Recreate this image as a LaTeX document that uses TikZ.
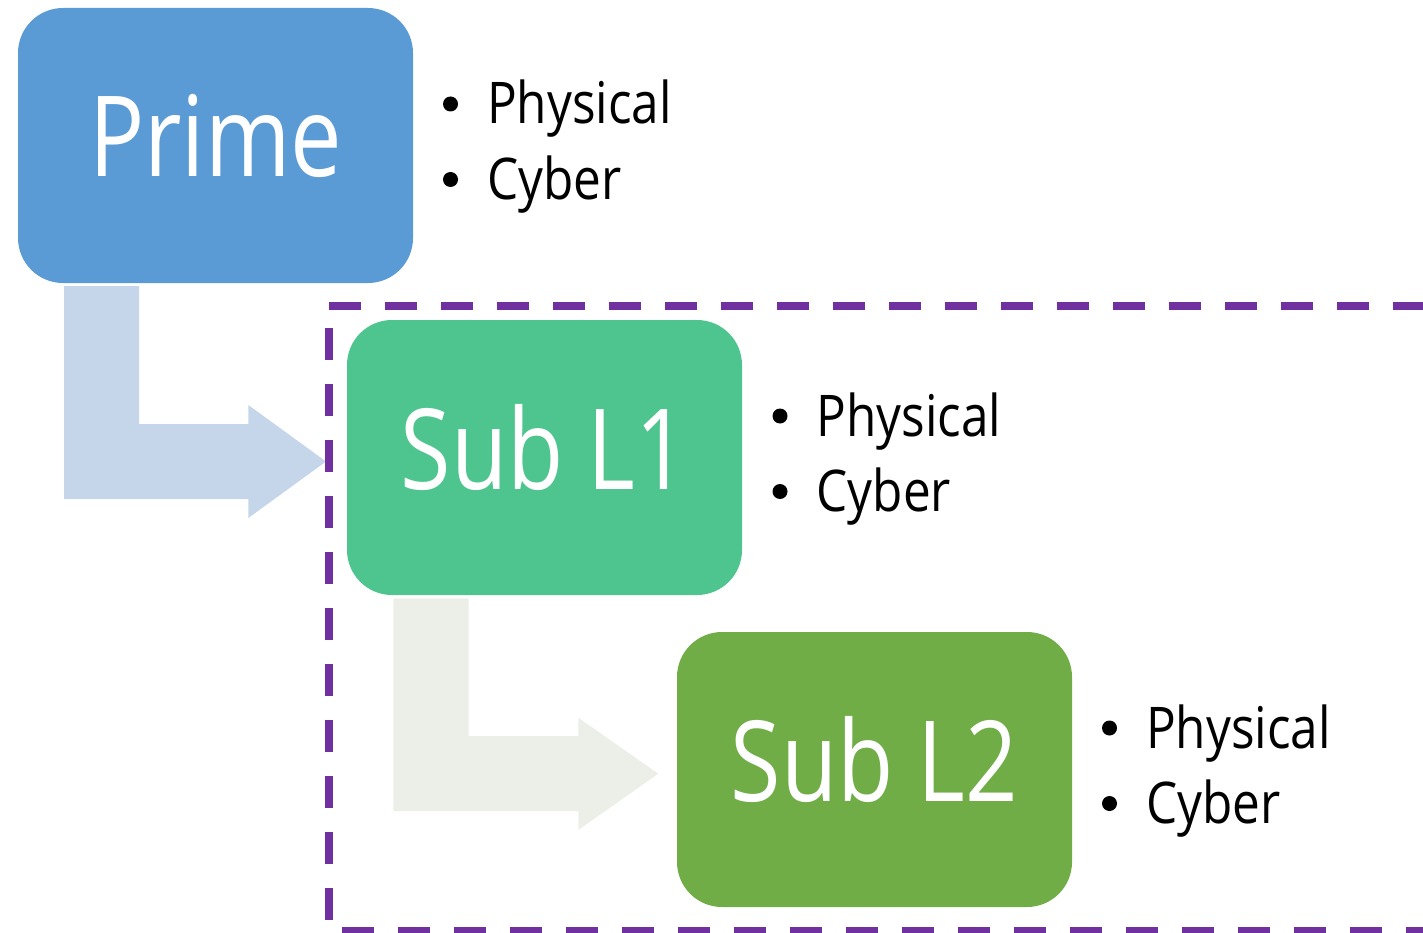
\documentclass[tikz,border=0pt]{standalone}
\usepackage{fontspec}
\newfontfamily\boxfont{Open Sans}[FakeStretch=0.82]
\newfontfamily\bulfont{Open Sans}[FakeStretch=0.86]
\definecolor{primeblue}{HTML}{5B9BD5}
\definecolor{subonegreen}{HTML}{4EC58F}
\definecolor{subtwogreen}{HTML}{70AD47}
\definecolor{arrowblue}{HTML}{C5D5EA}
\definecolor{arrowgreen}{HTML}{EBEFE8}
\definecolor{dashpurple}{HTML}{7030A0}
\begin{document}
\begin{tikzpicture}[x=1pt,y=-1pt,
  stagebox/.style={rounded corners=45pt, minimum width=395pt, minimum height=275pt,
    inner sep=0pt, text=white, font=\boxfont\fontsize{112}{112}\selectfont,
    text height=80pt, text depth=17pt},
  bullettext/.style={anchor=base west, inner sep=0pt, font=\bulfont\fontsize{57.5}{57.5}\selectfont},
  bulletdot/.style={circle, fill=black, inner sep=0pt, minimum size=15pt},
  dashline/.style={draw=dashpurple, line width=8pt, dash pattern=on 32pt off 24pt}]
\useasboundingbox (0,0) rectangle (1423,933);
\clip (0,0) rectangle (1423,933);
% bent arrows
\fill[arrowblue] (64,286) -- (139,286) -- (139,424) -- (248.3,424) -- (248.3,405)
  -- (326,461.5) -- (248.3,518) -- (248.3,499) -- (64,499) -- cycle;
\fill[arrowgreen] (393.3,598.3) -- (468.7,598.3) -- (468.7,736) -- (578.3,736) -- (578.3,717.7)
  -- (658.3,773.7) -- (578.3,830) -- (578.3,811) -- (393.3,811) -- cycle;
% dashed frame
\coordinate (frametl) at (328.5,306);
\coordinate (frametr) at (1430,306);
\coordinate (framebl) at (328.5,931);
\coordinate (framebr) at (1430,931);
\draw[dashline] (frametl) -- (frametr);
\draw[dashline, dash phase=34pt] (frametl) -- (328.5,940);
\draw[dashline, dash phase=43pt] (framebl) -- (framebr);
% boxes
\node[stagebox, fill=primeblue] (prime) at (215.5,145.5) {Prime};
\node[stagebox, fill=subonegreen] (subone) at (544.5,457.5) {Sub L1};
\node[stagebox, fill=subtwogreen] (subtwo) at (874.5,769.5) {Sub L2};
% bullets
\node[bulletdot] (pdotA) at (450.5,104) {};
\node[bullettext] (ptextA) at (487,124) {Physical};
\node[bulletdot] (pdotB) at (450.5,179.5) {};
\node[bullettext] (ptextB) at (487,199.5) {Cyber};
\node[bulletdot] (sdotA) at (780,416) {};
\node[bullettext] (stextA) at (816.5,436) {Physical};
\node[bulletdot] (sdotB) at (780,491.5) {};
\node[bullettext] (stextB) at (816.5,511.5) {Cyber};
\node[bulletdot] (tdotA) at (1109.5,728) {};
\node[bullettext] (ttextA) at (1146,748) {Physical};
\node[bulletdot] (tdotB) at (1109.5,803.5) {};
\node[bullettext] (ttextB) at (1146,823.5) {Cyber};
\end{tikzpicture}
\end{document}
